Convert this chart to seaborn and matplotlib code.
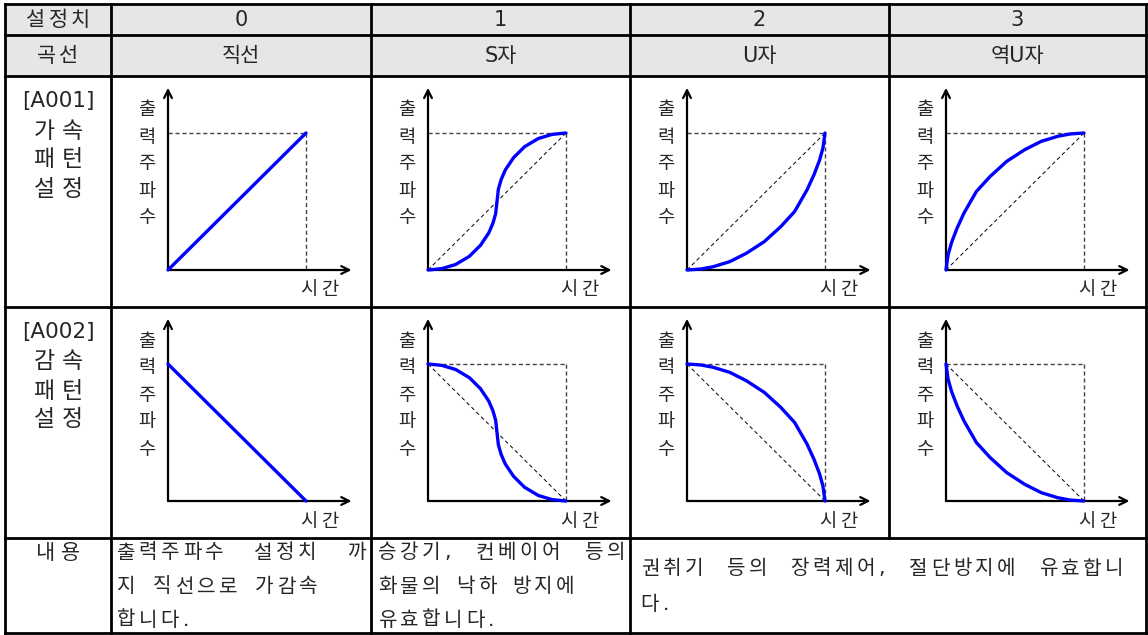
import matplotlib
matplotlib.use("Agg")
import matplotlib.pyplot as plt
import matplotlib.patches as mpatches
import seaborn as sns

# ---- table text ----
header_left = ["설정치", "곡선"]
set_values = ["0", "1", "2", "3"]
curve_names = ["직선", "S자", "U자", "역U자"]
row_codes = ["[A001]", "[A002]"]
row_labels = [["가속", "패턴", "설정"],
              ["감속", "패턴", "설정"]]
content_label = "내용"
y_axis_label = "출력주파수"
x_axis_label = "시간"
desc_linear = ["출력주파수 설정치 까", "지 직선으로 가감속", "합니다."]
desc_s = ["승강기, 컨베이어 등의", "화물의 낙하 방지에", "유효합니다."]
desc_u = ["권취기 등의 장력제어, 절단방지에 유효합니", "다."]

# ---- curve shapes (normalised time vs. output frequency) ----
linear_t = [0.0, 1.0]
linear_acc = [0.0, 1.0]
linear_dec = [1.0, 0.0]

s_t = [0.0, 0.10, 0.20, 0.30, 0.38, 0.44, 0.47, 0.49, 0.50, 0.51, 0.53,
       0.56, 0.62, 0.70, 0.80, 0.90, 1.0]
s_acc = [0.0, 0.01, 0.04, 0.10, 0.18, 0.27, 0.34, 0.41, 0.50, 0.59, 0.66,
         0.73, 0.82, 0.90, 0.96, 0.99, 1.0]
s_dec = [1.0, 0.99, 0.96, 0.90, 0.82, 0.73, 0.66, 0.59, 0.50, 0.41, 0.34,
         0.27, 0.18, 0.10, 0.04, 0.01, 0.0]

u_t = [0.0, 0.10, 0.19, 0.31, 0.43, 0.56, 0.68, 0.78, 0.87, 0.92, 0.96,
       0.985, 1.0]
u_acc = [0.0, 0.007, 0.024, 0.061, 0.122, 0.207, 0.317, 0.427, 0.585,
         0.695, 0.80, 0.89, 1.0]
u_dec = [1.0, 0.993, 0.976, 0.939, 0.878, 0.793, 0.683, 0.573, 0.415,
         0.305, 0.20, 0.11, 0.0]

inv_t = [0.0, 0.015, 0.04, 0.08, 0.13, 0.22, 0.32, 0.44, 0.57, 0.69, 0.81,
         0.90, 1.0]
inv_acc = [0.0, 0.11, 0.20, 0.305, 0.415, 0.573, 0.683, 0.793, 0.878,
           0.939, 0.976, 0.993, 1.0]
inv_dec = [1.0, 0.89, 0.80, 0.695, 0.585, 0.427, 0.317, 0.207, 0.122,
           0.061, 0.024, 0.007, 0.0]

curves = [
    [(linear_t, linear_acc), (s_t, s_acc), (u_t, u_acc), (inv_t, inv_acc)],
    [(linear_t, linear_dec), (s_t, s_dec), (u_t, u_dec), (inv_t, inv_dec)],
]

sns.set_style("white")
plt.rcParams["font.family"] = ["DejaVu Sans", "Noto Sans CJK KR"]

W, H = 1148, 635
fig = plt.figure(figsize=(W / 100, H / 100), dpi=100)
tab = fig.add_axes([0, 0, 1, 1])
tab.set_xlim(0, W)
tab.set_ylim(H, 0)
tab.axis("off")

# table grid (pixel layout)
col_x = [5, 111, 371, 630, 889, 1146]
row_y = [4, 35, 76, 307, 538, 633]
grid_lw = 2.0

tab.add_patch(mpatches.Rectangle((col_x[0], row_y[0]), col_x[-1] - col_x[0],
                                 row_y[2] - row_y[0], facecolor="#e6e6e6",
                                 edgecolor="none", zorder=0))
for y in row_y:
    tab.plot([col_x[0], col_x[-1]], [y, y], color="black", lw=grid_lw,
             solid_capstyle="projecting")
for i, x in enumerate(col_x):
    y_end = row_y[4] if i == 4 else row_y[-1]
    tab.plot([x, x], [row_y[0], y_end], color="black", lw=grid_lw,
             solid_capstyle="projecting")


def spaced(s, x, y, fs, pitch, align="left", width=None, space=None,
           narrow=None):
    """Typeset a string on a fixed character pitch (wide hangul cells,
    half cells for latin/punctuation); optionally spread to a width."""
    narrow = pitch * 0.5 if narrow is None else narrow
    cells = []
    for ch in s:
        if ch == " ":
            cells.append(None)
        elif ord(ch) >= 0x1100:
            cells.append(pitch)
        else:
            cells.append(narrow)
    fixed = sum(c for c in cells if c is not None)
    n_sp = cells.count(None)
    if width is not None and n_sp:
        space = (width - fixed) / n_sp
    elif space is None:
        space = pitch * 0.6
    total = fixed + n_sp * space
    x0 = x - total / 2 if align == "center" else x
    for ch, c in zip(s, cells):
        if c is None:
            x0 += space
            continue
        tab.text(x0 + c / 2, y, ch, ha="center", va="center", fontsize=fs)
        x0 += c


fs_head = 15
fs_label = 16.5
fs_small = 13.5
fs_body = 14.5
col_cx = [(col_x[i] + col_x[i + 1]) / 2 for i in range(5)]

spaced(header_left[0], col_cx[0], 20, fs_head, 22, align="center")
spaced(header_left[1], col_cx[0], 56, fs_head, 22, align="center")
for i in range(4):
    tab.text(col_cx[i + 1], 20, set_values[i], ha="center", va="center",
             fontsize=fs_head)
    tab.text(col_cx[i + 1], 56, curve_names[i], ha="center", va="center",
             fontsize=fs_head)

for r in range(2):
    top = row_y[2 + r]
    tab.text(col_cx[0], top + 25, row_codes[r], ha="center", va="center",
             fontsize=fs_label - 1)
    for k, lab in enumerate(row_labels[r]):
        spaced(lab, col_cx[0], top + 55 + 29 * k, fs_label, 28, align="center")

# content row
spaced(content_label, col_cx[0], 553, fs_head, 25, align="center")
line_y = [553, 587, 620]
body_pitch = 22
spaced(desc_linear[0], col_x[1] + 4, line_y[0], fs_body, body_pitch,
       width=col_x[2] - col_x[1] - 8)
spaced(desc_linear[1], col_x[1] + 4, line_y[1], fs_body, body_pitch, space=14)
spaced(desc_linear[2], col_x[1] + 4, line_y[2], fs_body, body_pitch)
spaced(desc_s[0], col_x[2] + 5, line_y[0], fs_body, body_pitch,
       width=col_x[3] - col_x[2] - 8)
spaced(desc_s[1], col_x[2] + 5, line_y[1], fs_body, body_pitch, space=12)
spaced(desc_s[2], col_x[2] + 5, line_y[2], fs_body, body_pitch)
spaced(desc_u[0], col_x[3] + 9, 569, fs_body, body_pitch,
       width=col_x[5] - col_x[3] - 30)
spaced(desc_u[1], col_x[3] + 9, 604, fs_body, body_pitch)

# ---- diagrams ----
unit_x, unit_y = 138, 137
ext = 1.33
for r in range(2):
    top = row_y[2 + r]
    for c in range(4):
        left = col_x[1 + c]
        ox, oy = left + 57, top + 194
        ax = fig.add_axes([ox / W, 1 - oy / H, ext * unit_x / W, ext * unit_y / H])
        ax.set_xlim(0, ext)
        ax.set_ylim(0, ext)
        ax.axis("off")

        arrow = dict(arrowstyle="->", lw=1.6, color="black", mutation_scale=14,
                     shrinkA=0, shrinkB=0)
        ax.annotate("", xy=(ext, 0), xytext=(0, 0), arrowprops=arrow,
                    annotation_clip=False)
        ax.annotate("", xy=(0, ext), xytext=(0, 0), arrowprops=arrow,
                    annotation_clip=False)

        if not (r == 1 and c == 0):
            ax.plot([0, 1], [1, 1], color="#444444", lw=1.0, ls=(0, (3, 2)),
                    clip_on=False)
            ax.plot([1, 1], [1, 0], color="#444444", lw=1.0, ls=(0, (3, 2)),
                    clip_on=False)
        if c > 0:
            if r == 0:
                ax.plot([0, 1], [0, 1], color="black", lw=0.7,
                        ls=(0, (4, 3)), clip_on=False)
            else:
                ax.plot([0, 1], [1, 0], color="black", lw=0.7,
                        ls=(0, (4, 3)), clip_on=False)

        tx, ty = curves[r][c]
        sns.lineplot(x=tx, y=ty, ax=ax, color="#0000ff", linewidth=2.4,
                     estimator=None, sort=False, clip_on=False,
                     solid_capstyle="round", zorder=5)
        ax.set_xlabel("")
        ax.set_ylabel("")

        for k, ch in enumerate(y_axis_label):
            tab.text(left + 36, top + 34 + 27 * k, ch, ha="center", va="center",
                     fontsize=fs_small)
        spaced(x_axis_label, left + 208, top + 214, fs_small, 21, align="center")

fig.savefig("out.png", dpi=100)
